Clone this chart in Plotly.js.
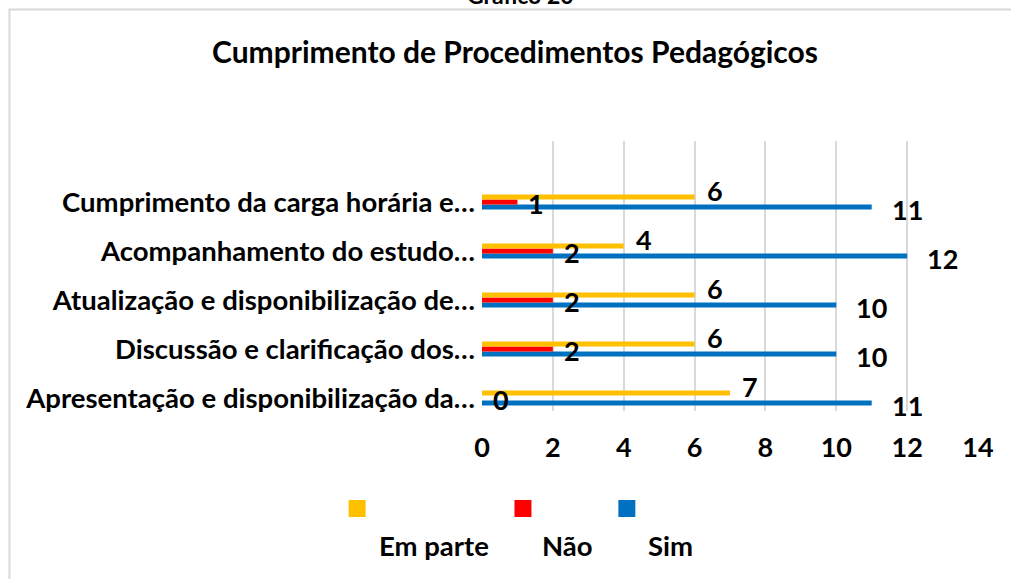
<!DOCTYPE html>
<html>
<head>
<meta charset="utf-8">
<script src="https://cdn.plot.ly/plotly-3.0.1.min.js"></script>
<style>html,body{margin:0;padding:0;background:#fff;}#chart{width:1011px;height:579px;}</style>
</head>
<body>
<div id="chart"></div>
<script>
// ---- data ----
const categories = [
  'Apresentação e disponibilização da…',
  'Discussão e clarificação dos…',
  'Atualização e disponibilização de…',
  'Acompanhamento do estudo…',
  'Cumprimento da carga horária e…'
];
const seriesNames = ['Em parte', 'Não', 'Sim'];
const emParte = [7, 6, 6, 4, 6];
const nao     = [0, 2, 2, 2, 1];
const sim     = [11, 10, 10, 12, 11];
const xTickValues = [0, 2, 4, 6, 8, 10, 12, 14];
const chartTitle = 'Cumprimento de Procedimentos Pedagógicos';
const captionText = 'Gráfico 20';

// ---- styling ----
const W = 1011, H = 579;
const M = {l: 481.5, r: 33, t: 141, b: 168};
const FONT = 'Lato, "Open Sans", sans-serif';
const colors = {'Em parte': '#FFC000', 'Não': '#FF0000', 'Sim': '#0070C0'};
const valuesBy = {'Em parte': emParte, 'Não': nao, 'Sim': sim};
const labelStyle = {
  'Em parte': {xshift: 10, yshift: 12},
  'Não':      {xshift: 9,  yshift: -1},
  'Sim':      {xshift: 18, yshift: -7}
};

const pw = W - M.l - M.r, ph = H - M.t - M.b;
const px2x = p => (p - M.l) / pw;
const px2y = p => (H - M.b - p) / ph;

// traces: blue first so that yellow sits on top within each group
const order = ['Sim', 'Não', 'Em parte'];
const traces = order.map(name => ({
  type: 'bar',
  orientation: 'h',
  name: name,
  x: valuesBy[name],
  y: categories,
  marker: {color: colors[name]},
  showlegend: false,
  hoverinfo: 'x+name'
}));

const annotations = [];
seriesNames.forEach(name => {
  valuesBy[name].forEach((v, i) => {
    annotations.push({
      x: v, y: categories[i], xref: 'x', yref: 'y',
      text: String(v), showarrow: false,
      xanchor: 'left', yanchor: 'middle',
      xshift: labelStyle[name].xshift, yshift: labelStyle[name].yshift,
      font: {family: FONT, size: 27, color: '#000', weight: 'bold'}
    });
  });
});

// caption (cut off at the top, as in the reference)
annotations.push({
  x: px2x(520), y: px2y(-5), xref: 'paper', yref: 'paper',
  text: captionText, showarrow: false, xanchor: 'center', yanchor: 'middle',
  font: {family: FONT, size: 23, color: '#000', weight: 'bold'}
});

// custom legend: swatch above, text below
const legendSpots = [
  {name: 'Em parte', sq: 348, tx: 433},
  {name: 'Não', sq: 514, tx: 567},
  {name: 'Sim', sq: 618, tx: 670}
];
const shapes = [];
legendSpots.forEach(s => {
  shapes.push({
    type: 'rect', xref: 'paper', yref: 'paper',
    x0: px2x(s.sq), x1: px2x(s.sq + 17), y0: px2y(517), y1: px2y(500),
    fillcolor: colors[s.name], line: {width: 0}
  });
  annotations.push({
    x: px2x(s.tx), y: px2y(545), xref: 'paper', yref: 'paper',
    text: s.name, showarrow: false, xanchor: 'center', yanchor: 'middle',
    font: {family: FONT, size: 27.5, color: '#000', weight: 'bold'}
  });
});

// outer frame (left and top edges visible)
shapes.push({
  type: 'path', xref: 'paper', yref: 'paper',
  path: 'M ' + px2x(8.5) + ' ' + px2y(H + 5) + ' L ' + px2x(8.5) + ' ' + px2y(9.5) +
        ' L ' + px2x(W + 5) + ' ' + px2y(9.5),
  line: {color: '#d9d9d9', width: 2}
});

const layout = {
  width: W, height: H,
  margin: M,
  paper_bgcolor: '#fff', plot_bgcolor: '#fff',
  font: {family: FONT, color: '#000'},
  title: {
    text: chartTitle,
    x: 515 / W, xanchor: 'center',
    y: 1 - 52 / H, yanchor: 'middle', yref: 'container',
    font: {family: FONT, size: 30, color: '#000', weight: 'bold'}
  },
  barmode: 'group',
  bargap: 0.694,
  bargroupgap: 0,
  xaxis: {
    range: [0, 14], autorange: false,
    tickvals: xTickValues, ticktext: xTickValues.map(String),
    showgrid: true, gridcolor: '#d9d9d9', gridwidth: 2,
    zeroline: false, showline: false, ticks: '',
    ticklabelstandoff: 18,
    tickfont: {family: FONT, size: 27, color: '#000', weight: 'bold'},
    fixedrange: true
  },
  yaxis: {
    type: 'category',
    categoryorder: 'array', categoryarray: categories,
    range: [-0.265, 5.245], autorange: false,
    showgrid: false, zeroline: false, showline: false, ticks: '',
    ticklabelstandoff: 6,
    tickfont: {family: FONT, size: 27.5, color: '#000', weight: 'bold'},
    fixedrange: true
  },
  annotations: annotations,
  shapes: shapes
};

Plotly.newPlot('chart', traces, layout, {displayModeBar: false, staticPlot: true});
</script>
</body>
</html>
